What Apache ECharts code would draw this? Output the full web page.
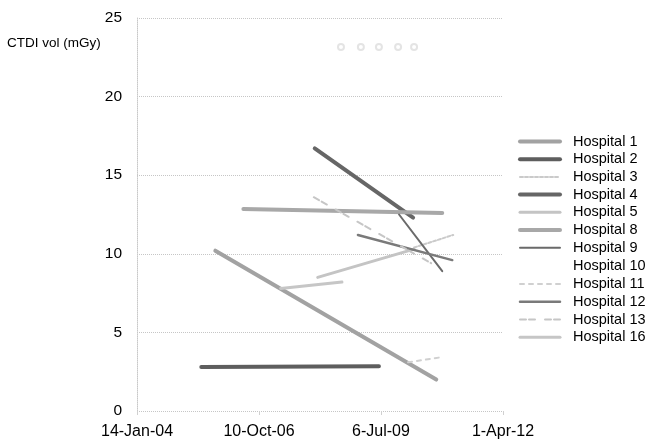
<!DOCTYPE html>
<html>
<head>
<meta charset="utf-8">
<script src="https://cdn.jsdelivr.net/npm/echarts@6/dist/echarts.min.js"></script>
<style>
html,body{margin:0;padding:0;background:#fff;}
#chart{width:647px;height:441px;}
</style>
</head>
<body>
<div id="chart"></div>
<script>
// ---- Data (dates, CTDI vol in mGy) ----
const axisStartDate = '2004-01-14';
const xTickLabels = ['14-Jan-04', '10-Oct-06', '6-Jul-09', '1-Apr-12'];
const yAxisTitle = 'CTDI vol (mGy)';

const hospital1  = [['2005-10-17', 10.2], ['2010-10-02', 2.0]];
const hospital2  = [['2005-06-24', 2.8],  ['2009-06-19', 2.85]];
const hospital3  = [['2010-04-03', 10.4], ['2011-02-18', 11.2]];
const hospital4  = [['2008-01-10', 16.7], ['2010-03-26', 12.3]];
const hospital5  = [['2008-02-03', 8.5],  ['2010-04-03', 10.3]];
const hospital8  = [['2006-06-04', 12.85], ['2010-11-20', 12.6]];
const hospital9  = [['2009-12-01', 12.5], ['2010-11-20', 8.9]];
const hospital10 = [['2008-08-12', 23.15], ['2009-01-22', 23.15], ['2009-06-19', 23.15], ['2009-11-23', 23.15], ['2010-04-03', 23.15]];
const hospital11 = [['2010-02-13', 3.1],  ['2010-10-26', 3.4]];
const hospital12 = [['2008-12-29', 11.2], ['2011-02-10', 9.6]];
const hospital13 = [['2008-01-02', 13.6], ['2010-08-21', 9.4]];
const hospital16 = [['2007-04-05', 7.8],  ['2008-08-20', 8.2]];

const legendNames = ['Hospital 1','Hospital 2','Hospital 3','Hospital 4','Hospital 5','Hospital 8','Hospital 9','Hospital 10','Hospital 11','Hospital 12','Hospital 13','Hospital 16'];

// ---- helpers ----
const DAY = 86400000;
const t0 = Date.parse(axisStartDate);
function toDays(rows) {
  return rows.map(r => [(Date.parse(r[0]) - t0) / DAY, r[1]]);
}
const widthByName = {};
function lineSeries(name, rows, color, width, type) {
  widthByName[name] = width;
  return {
    name: name,
    type: 'line',
    data: toDays(rows),
    symbol: 'none',
    showSymbol: false,
    silent: true,
    lineStyle: { color: color, width: width, type: type || 'solid', cap: 'round' },
    itemStyle: { color: color },
    z: 3
  };
}

const series = [
  lineSeries('Hospital 1', hospital1, '#a2a2a2', 4),
  lineSeries('Hospital 2', hospital2, '#5e5e5e', 4),
  lineSeries('Hospital 3', hospital3, '#cacaca', 2, [3, 2]),
  lineSeries('Hospital 4', hospital4, '#666666', 4),
  lineSeries('Hospital 5', hospital5, '#c4c4c4', 3),
  lineSeries('Hospital 8', hospital8, '#a8a8a8', 4),
  lineSeries('Hospital 9', hospital9, '#6a6a6a', 2),
  {
    name: 'Hospital 10',
    type: 'scatter',
    data: toDays(hospital10),
    symbol: 'emptyCircle',
    symbolSize: 6,
    silent: true,
    itemStyle: { color: '#dddddd', borderColor: '#d6d6d6', borderWidth: 1 }
  },
  lineSeries('Hospital 11', hospital11, '#d0d0d0', 2, [4, 5]),
  lineSeries('Hospital 12', hospital12, '#7a7a7a', 2.5),
  lineSeries('Hospital 13', hospital13, '#c6c6c6', 2, [6, 3, 6, 10]),
  lineSeries('Hospital 16', hospital16, '#c6c6c6', 3)
];

const chart = echarts.init(document.getElementById('chart'), null, { renderer: 'canvas' });
chart.setOption({
  animation: false,
  backgroundColor: '#ffffff',
  textStyle: { fontFamily: 'Liberation Sans, Arial, sans-serif' },
  grid: { left: 137, right: 144, top: 18, bottom: 30, containLabel: false },
  xAxis: {
    type: 'value',
    min: 0,
    max: 3000,
    interval: 1000,
    axisLine: { show: false },
    axisTick: { show: true, length: 4, lineStyle: { color: '#d0d0d0' } },
    splitLine: { show: false },
    axisLabel: {
      color: '#000',
      fontSize: 16,
      margin: 13,
      fontFamily: 'Liberation Sans, Arial, sans-serif',
      formatter: v => xTickLabels[Math.round(v / 1000)] || ''
    }
  },
  yAxis: {
    type: 'value',
    min: 0,
    max: 25,
    interval: 5,
    axisLine: { show: true, lineStyle: { color: '#c8c8c8', type: 'dotted', width: 1 } },
    axisTick: { show: false },
    splitLine: { show: true, lineStyle: { color: '#c6c6c6', type: 'dotted', width: 1 } },
    axisLabel: {
      color: '#000',
      fontSize: 15.5,
      margin: 15,
      fontFamily: 'Liberation Sans, Arial, sans-serif'
    }
  },
  legend: {
    orient: 'vertical',
    left: 518,
    top: 134,
    padding: 0,
    itemWidth: 40,
    itemHeight: 14,
    itemGap: 2.7,
    selectedMode: false,
    itemStyle: { opacity: 0 },
    textStyle: { color: '#000', fontSize: 14.5, fontFamily: 'Liberation Sans, Arial, sans-serif', padding: [0, 0, 0, 8] },
    data: legendNames.map(n => widthByName[n] ? { name: n, lineStyle: { width: widthByName[n] } } : { name: n })
  },
  graphic: [
    {
      type: 'text',
      left: 7,
      top: 36,
      style: { text: yAxisTitle, fill: '#000', fontSize: 13.5, fontFamily: 'Liberation Sans, Arial, sans-serif' }
    }
  ],
  series: series
});
</script>
</body>
</html>
